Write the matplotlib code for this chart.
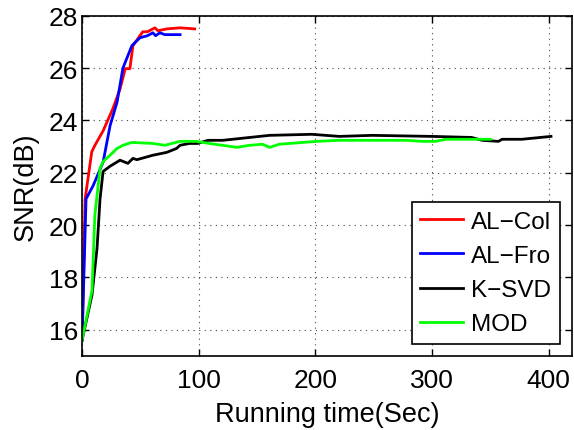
import matplotlib
matplotlib.use("Agg")
import matplotlib.pyplot as plt

plt.rcParams['font.family'] = ['Liberation Sans', 'DejaVu Sans']

# AL-Col (red)
t_col = [0, 2.6, 8.3, 11, 18, 26.5, 32.5, 37, 41, 43.6, 52, 56, 62.4, 65, 72.6, 84, 96.5]
snr_col = [15.6, 21.0, 22.8, 23.05, 23.6, 24.46, 25.2, 25.98, 25.98, 26.86, 27.39, 27.39,
           27.54, 27.43, 27.5, 27.54, 27.5]

# AL-Fro (blue)
t_fro = [0, 3.4, 9.4, 18, 24, 30, 35, 42.7, 49.6, 56, 60.7, 63, 66.7, 71, 84]
snr_fro = [15.6, 21.0, 21.5, 22.4, 23.8, 24.7, 26.0, 26.86, 27.16, 27.24, 27.35, 27.24,
           27.35, 27.28, 27.28]

# K-SVD (black)
t_ksvd = [0, 8.5, 12.8, 15.4, 18, 24, 32.5, 39.3, 43.6, 47, 60.7, 72.6, 81, 84, 92, 99,
          108, 120.5, 160.7, 197, 220.5, 249, 300, 334, 343, 357, 360, 377, 402]
snr_ksvd = [15.6, 17.33, 19.1, 21.0, 22.05, 22.25, 22.48, 22.36, 22.55, 22.5, 22.67, 22.78,
            22.93, 23.05, 23.12, 23.12, 23.24, 23.24, 23.43, 23.47, 23.39, 23.43, 23.39,
            23.35, 23.24, 23.2, 23.28, 23.28, 23.39]

# MOD (green)
t_mod = [0, 8.5, 11, 15.4, 18, 24, 30, 35, 42.7, 60.7, 71, 84, 98, 109, 120.5, 132.5,
         143.6, 154.7, 160.7, 169, 200.9, 220.5, 277.8, 291.5, 303, 312, 350]
snr_mod = [15.6, 17.5, 20.4, 22.17, 22.43, 22.67, 22.93, 23.05, 23.16, 23.12, 23.05, 23.2,
           23.2, 23.12, 23.05, 22.97, 23.05, 23.09, 22.97, 23.09, 23.2, 23.24, 23.24, 23.2,
           23.2, 23.28, 23.28]

fig = plt.figure(figsize=(5.74, 4.31), dpi=100)
ax = fig.add_axes([0.143, 0.172, 0.8535, 0.789])

ax.plot(t_col, snr_col, color='#ff0000', lw=2, label='AL\u2212Col')
ax.plot(t_fro, snr_fro, color='#0000ff', lw=2, label='AL\u2212Fro')
ax.plot(t_ksvd, snr_ksvd, color='black', lw=2, label='K\u2212SVD')
ax.plot(t_mod, snr_mod, color='#00ff00', lw=2, label='MOD')

ax.set_xlim(0, 420)
ax.set_ylim(15, 28)
ax.set_xticks([0, 100, 200, 300, 400])
ax.set_yticks([16, 18, 20, 22, 24, 26, 28])
ax.tick_params(direction='in', top=True, right=True, labelsize=19, length=5, width=1)
ax.tick_params(axis='x', pad=9)
ax.tick_params(axis='y', pad=3)
ax.grid(True, linestyle=(0, (1, 4)), color='#444444', lw=0.8)
for s in ax.spines.values():
    s.set_linewidth(1.2)

ax.set_xlabel('Running time(Sec)', fontsize=19.5, labelpad=6)
ax.set_ylabel('SNR(dB)', fontsize=19.5, labelpad=7)

leg = ax.legend(loc='lower right', fontsize=17.5, fancybox=False, framealpha=1,
                edgecolor='black', handlelength=1.75, borderaxespad=0.5,
                labelspacing=0.5, handletextpad=0.35, borderpad=0.35)
leg.get_frame().set_linewidth(1.2)

fig.savefig('out.png', dpi=100)
